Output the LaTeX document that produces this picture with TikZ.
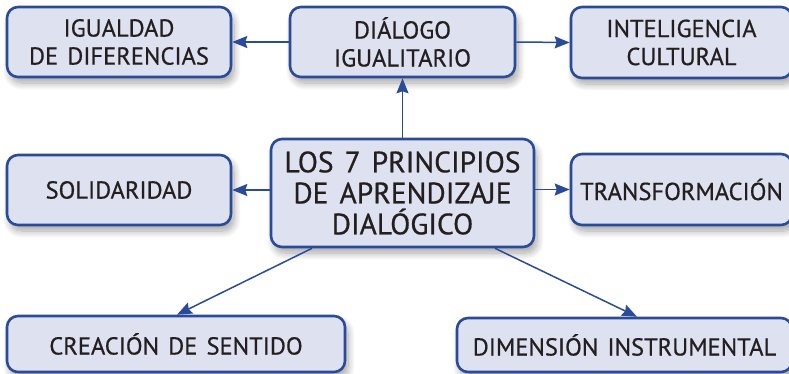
\documentclass[tikz,border=0pt]{standalone}
\usepackage{fontspec}
\setmainfont[WordSpace=1.4,FakeBold=0.6]{PT Sans}
\usetikzlibrary{arrows.meta,shadows.blur}
\definecolor{boxfill}{HTML}{DEE1EF}
\definecolor{boxline}{HTML}{2A4A9A}
\definecolor{txt}{HTML}{231F20}
\tikzset{
  box/.style={draw=boxline, line width=2.6pt, fill=boxfill, rounded corners=11pt,
    text=txt, align=center, inner sep=0pt, font=\fontsize{24.5}{28}\selectfont,
    blur shadow={shadow xshift=3pt, shadow yshift=-6pt, shadow blur radius=7pt,
      shadow blur steps=10, shadow opacity=35}},
  conn/.style={draw=boxline, line width=1.5pt,
    -{Stealth[length=15pt,width=12pt,inset=2pt]}}
}
\begin{document}
\begin{tikzpicture}[x=1pt,y=-1pt]
\useasboundingbox (0,0) rectangle (789,373);
\clip (0,0) rectangle (789,373);
\node[box, minimum width=224pt, minimum height=70pt] (ig) at (119,42) {IGUALDAD\\DE DIFERENCIAS};
\node[box, minimum width=225pt, minimum height=70pt] (di) at (402.5,42) {DIÁLOGO\\IGUALITARIO};
\node[box, minimum width=221pt, minimum height=71pt] (in) at (681.5,42.5) {INTELIGENCIA\\CULTURAL};
\node[box, minimum width=224pt, minimum height=70pt] (so) at (119,190) {SOLIDARIDAD};
\node[box, minimum width=263pt, minimum height=108pt, font=\fontsize{29.5}{31}\selectfont] (c) at (402.5,193) {LOS 7 PRINCIPIOS\\DE APRENDIZAJE\\DIALÓGICO};
\node[box, minimum width=221pt, minimum height=71pt] (tr) at (681.5,189.5) {TRANSFORMACIÓN};
\node[box, minimum width=338pt, minimum height=56pt] (cr) at (176,344) {CREACIÓN DE SENTIDO};
\node[box, minimum width=335pt, minimum height=54pt] (dm) at (624.5,345) {DIMENSIÓN INSTRUMENTAL};
\draw[conn] (c.north) -- (di.south);
\draw[conn] (di.west) -- (ig.east);
\draw[conn] (di.east) -- (in.west);
\draw[conn] (c.west |- so.east) -- (so.east);
\draw[conn] (c.east |- tr.west) -- (tr.west);
\draw[conn] ([xshift=-90.5pt]c.south) -- ([xshift=1pt]cr.north);
\draw[conn] ([xshift=92.5pt]c.south) -- ([xshift=12.5pt]dm.north);
\end{tikzpicture}
\end{document}
